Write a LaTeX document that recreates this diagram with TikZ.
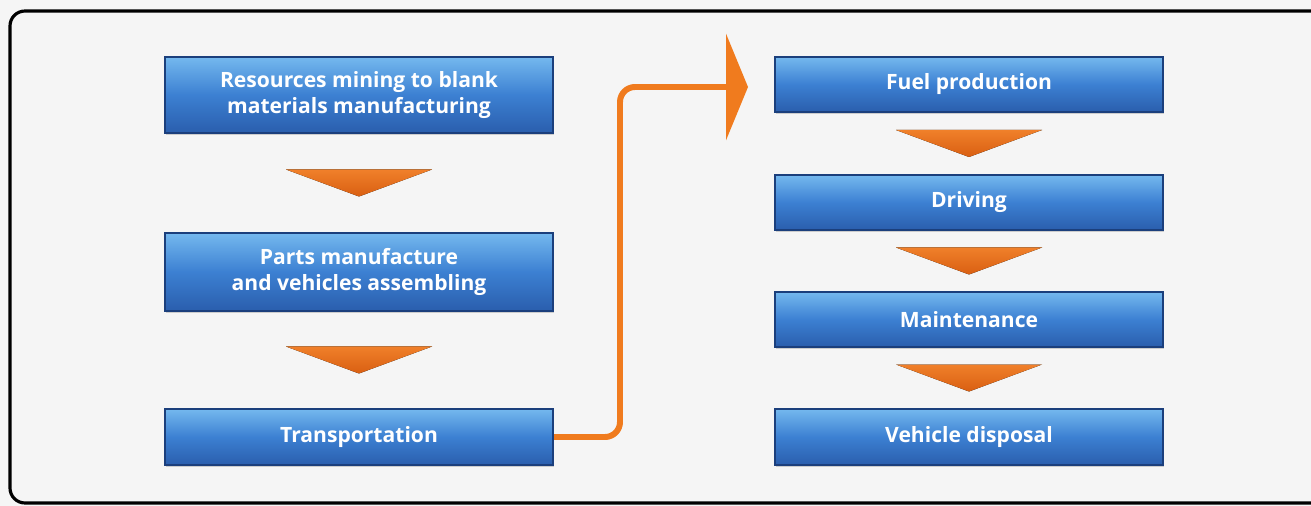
\documentclass[tikz,border=0pt]{standalone}
\usepackage{fontspec}
\setmainfont{Open Sans}
\usepackage{tikz}
\usetikzlibrary{calc,positioning,shadows,arrows.meta}

\definecolor{bgGray}{HTML}{F5F5F5}
\definecolor{boxTop}{HTML}{74B8EE}
\definecolor{boxMid}{HTML}{3C80D2}
\definecolor{boxBot}{HTML}{2A5EAD}
\definecolor{boxLine}{HTML}{1B3F7C}
\definecolor{chevTop}{HTML}{F0802A}
\definecolor{chevBot}{HTML}{D95F12}
\definecolor{flowOrange}{HTML}{F07B1E}

\tikzset{
  stagebox/.style={draw=boxLine, line width=1.2pt, top color=boxTop, bottom color=boxBot,
    middle color=boxMid, minimum width=7.76cm, text=white, align=center,
    font=\fontsize{12}{14.5}\selectfont\bfseries,
    drop shadow={shadow xshift=0.8pt, shadow yshift=-1.2pt, opacity=0.35}},
  chevron/.style={top color=chevTop, bottom color=chevBot, draw=none},
  flowline/.style={draw=flowOrange, line width=3.4pt, rounded corners=0.3cm}
}

% chevron between two stacked boxes
\newcommand{\chev}[2]{%
  \fill[chevron] ($(#1.south)!0.5!(#2.north)+(-73,-13.5)$) -- ++(146,0) -- ++(-73,27) -- cycle;}

\begin{document}
\begin{tikzpicture}[x=0.02cm,y=-0.02cm]
	\useasboundingbox (0,0) rectangle (1311,506);
	\fill[bgGray] (0,0) rectangle (1311,506);
	\draw[line width=1.8pt, rounded corners=0.3cm] (1340,11) -- (10,11) -- (10,503) -- (1340,503);

	% left column
	\node[stagebox, minimum height=1.52cm] (res) at (359,95) {Resources mining to blank\\materials manufacturing};
	\node[stagebox, minimum height=1.56cm] (parts) at (359,272) {Parts manufacture\\and vehicles assembling};
	\node[stagebox, minimum height=1.12cm] (trans) at (359,437) {Transportation};

	% right column
	\node[stagebox, minimum height=1.1cm] (fuel) at (969,84.5) {Fuel production};
	\node[stagebox, minimum height=1.1cm] (drive) at (969,202.5) {Driving};
	\node[stagebox, minimum height=1.1cm] (maint) at (969,319.5) {Maintenance};
	\node[stagebox, minimum height=1.12cm] (disp) at (969,437) {Vehicle disposal};

	\chev{res}{parts}
	\chev{parts}{trans}
	\chev{fuel}{drive}
	\chev{drive}{maint}
	\chev{maint}{disp}

	% link from transportation to fuel production
	\coordinate (bend) at (620,87);
	\coordinate (tip) at (748,87);
	\draw[flowline, -{Triangle[width=2.12cm, length=0.44cm]}] (trans.east) -| (bend) -- (tip);
\end{tikzpicture}
\end{document}
